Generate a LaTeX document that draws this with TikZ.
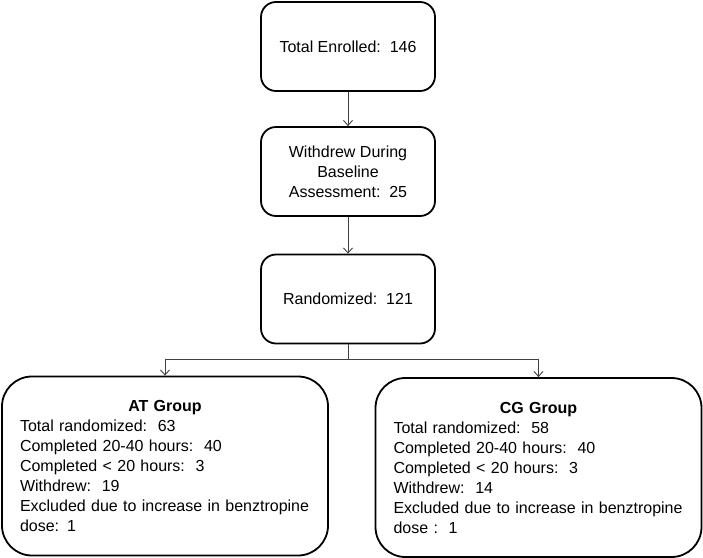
\documentclass[tikz,border=0pt]{standalone}
\usepackage{fontspec}
\setmainfont{Liberation Sans}
\usetikzlibrary{arrows.meta}
\begin{document}
\begin{tikzpicture}[x=1pt,y=-1pt,
  font=\fontsize{16}{20}\selectfont,
  topbox/.style={draw=black,line width=1.8pt,rounded corners=15pt,minimum width=174pt,minimum height=89pt,align=center,inner sep=0pt},
  groupbox/.style={draw=black,line width=1.8pt,rounded corners=30pt,minimum width=326pt,minimum height=179pt,inner sep=0pt,text width=290pt,align=left},
  conn/.style={draw=black!75,line width=1pt,-{Straight Barb[length=5pt,width=9pt,line width=0.9pt]}}]
\useasboundingbox (0,0) rectangle (703,557);
\node[topbox] (enr) at (348,46.5) {Total Enrolled:\ \ 146};
\node[topbox] (wd) at (348,171.5) {Withdrew During\\Baseline\\Assessment:\ \ 25};
\node[topbox] (rnd) at (348,299) {Randomized:\ \ 121};
\node[groupbox] (at) at (165,466) {\makebox[290pt]{\bfseries AT Group}\\Total randomized:\ \ 63\\Completed 20-40 hours:\ \ 40\\Completed \textless{} 20 hours:\ \ 3\\Withdrew:\ \ 19\\Excluded due to increase in benztropine\\dose: 1};
\node[groupbox] (cg) at (538.5,467.5) {\makebox[290pt]{\bfseries CG Group}\\Total randomized:\ \ 58\\Completed 20-40 hours:\ \ 40\\Completed \textless{} 20 hours:\ \ 3\\Withdrew:\ \ 14\\Excluded due to increase in benztropine\\dose :\ \ 1};
\coordinate (split) at (348,359);
\draw[conn] (enr) -- (wd);
\draw[conn] (wd) -- (rnd);
\draw[draw=black!75,line width=1pt] (rnd.south) -- (split);
\draw[conn] (split) -| (at.north);
\draw[conn] (split) -| (cg.north);
\end{tikzpicture}
\end{document}
